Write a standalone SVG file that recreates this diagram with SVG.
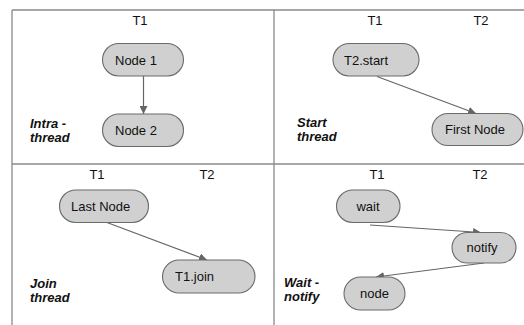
<svg xmlns="http://www.w3.org/2000/svg" width="524" height="325" viewBox="0 0 524 325">
<style>
.frame{stroke:#8a8a8a;stroke-width:1.3;fill:none}
.nd{fill:#d0d0d0;stroke:#6a6a6a;stroke-width:1.1}
.t{font-family:"Liberation Sans",Arial,sans-serif;font-size:13px;fill:#111}
.c{text-anchor:middle}
.lbl{font-family:"Liberation Sans",Arial,sans-serif;font-size:13px;font-weight:bold;font-style:italic;fill:#111}
.ed{stroke:#666;stroke-width:1.2;fill:none;marker-end:url(#ah)}
</style>
<defs>
<marker id="ah" viewBox="0 0 10 10" refX="10" refY="5" markerWidth="8" markerHeight="8" markerUnits="userSpaceOnUse" orient="auto">
<path d="M0,0 L10,5 L0,10 z" fill="#666"/>
</marker>
</defs>
<rect width="524" height="325" fill="#fff"/>
<g id="frame">
<line class="frame" x1="12" y1="10" x2="524" y2="10"/>
<line class="frame" x1="12" y1="164" x2="524" y2="164"/>
<line class="frame" x1="12" y1="10" x2="12" y2="325"/>
<line class="frame" x1="274" y1="10" x2="274" y2="325"/>
</g>
<g id="lanes">
<text class="t c" x="140" y="25">T1</text>
<text class="t c" x="375" y="25">T1</text>
<text class="t c" x="481" y="25">T2</text>
<text class="t c" x="97" y="179">T1</text>
<text class="t c" x="207" y="179">T2</text>
<text class="t c" x="377" y="179">T1</text>
<text class="t c" x="480" y="179">T2</text>
</g>
<g id="labels">
<text class="lbl" x="30" y="128">Intra -</text>
<text class="lbl" x="30" y="142">thread</text>
<text class="lbl" x="297" y="127">Start</text>
<text class="lbl" x="297" y="141">thread</text>
<text class="lbl" x="30" y="288">Join</text>
<text class="lbl" x="30" y="302">thread</text>
<text class="lbl" x="284" y="287">Wait -</text>
<text class="lbl" x="284" y="301">notify</text>
</g>
<g id="connectors">
<line class="ed" x1="143.5" y1="76" x2="143.5" y2="114"/>
<line class="ed" x1="377" y1="76.5" x2="476" y2="113.5"/>
<line class="ed" x1="107" y1="222.5" x2="207" y2="260"/>
<line class="ed" x1="370" y1="225" x2="481" y2="232.5"/>
<line class="ed" x1="484" y1="263" x2="376" y2="277"/>
</g>
<g id="node1"><rect class="nd" x="102.5" y="43.5" width="81" height="32.5" rx="16.25"/><text class="t" x="115" y="64.5">Node 1</text></g>
<g id="node2"><rect class="nd" x="102.5" y="114" width="81" height="32.5" rx="16.25"/><text class="t" x="115" y="135">Node 2</text></g>
<g id="t2start"><rect class="nd" x="333" y="43.5" width="86" height="32.5" rx="16.25"/><text class="t" x="344" y="64.5">T2.start</text></g>
<g id="firstnode"><rect class="nd" x="432" y="113.5" width="91" height="32" rx="16"/><text class="t" x="445" y="134">First Node</text></g>
<g id="lastnode"><rect class="nd" x="59.5" y="190" width="89" height="32.5" rx="16.25"/><text class="t" x="71" y="211">Last Node</text></g>
<g id="t1join"><rect class="nd" x="162.5" y="260" width="92.5" height="33" rx="16.5"/><text class="t" x="175" y="281">T1.join</text></g>
<g id="wait"><rect class="nd" x="336.5" y="190" width="63.5" height="32.5" rx="16.25"/><text class="t c" x="368" y="211">wait</text></g>
<g id="notify"><rect class="nd" x="452" y="232.5" width="64" height="30.5" rx="15.25"/><text class="t c" x="482" y="252">notify</text></g>
<g id="node"><rect class="nd" x="344" y="277" width="61" height="33" rx="16.5"/><text class="t c" x="374.5" y="298">node</text></g>
</svg>
